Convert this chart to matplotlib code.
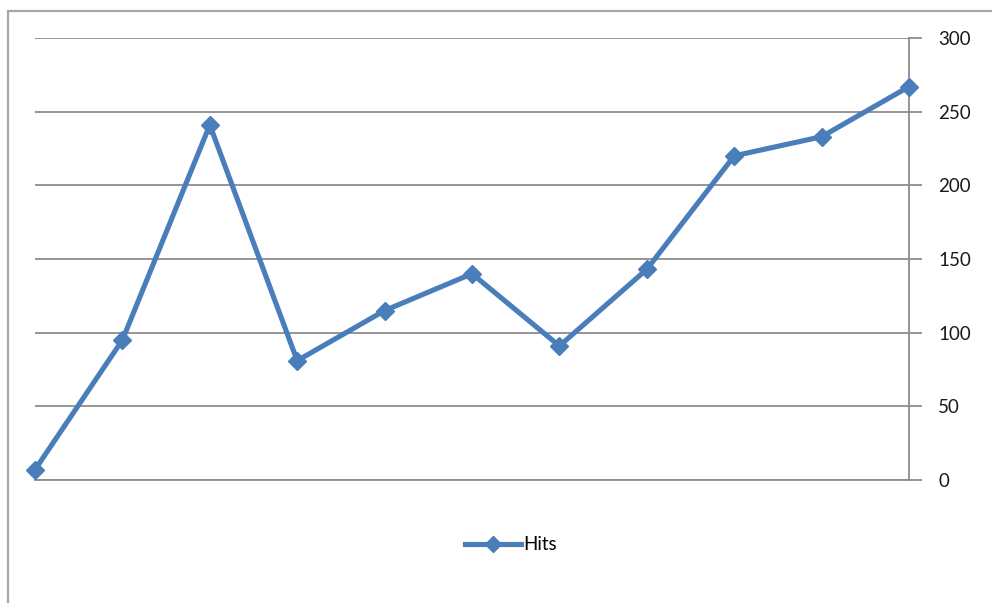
import matplotlib.pyplot as plt
from matplotlib.patches import Rectangle
from matplotlib.lines import Line2D

plt.rcParams['font.family'] = ['Lato', 'DejaVu Sans']

# data
points = list(range(11))
hits = [7, 95, 241, 81, 115, 140, 91, 143, 220, 233, 267]
y_ticks = [0, 50, 100, 150, 200, 250, 300]

line_color = '#4a7ebb'
grid_color = '#8c8c8c'

fig = plt.figure(figsize=(9.92, 6.03), dpi=100, facecolor='white')

# outer chart frame (clipped on the right and bottom like the screenshot)
frame = Rectangle((8 / 992, -0.1), 1.2, 1.1 - 11 / 603,
                  transform=fig.transFigure, fill=False,
                  edgecolor='#a6a6a6', linewidth=1.6)
fig.patches.append(frame)

ax = fig.add_axes([35 / 992, 1 - 480 / 603, (909 - 35) / 992, (480 - 38) / 603])
ax.plot(points, hits, color=line_color, linewidth=3.7, marker='D',
        markersize=9, markeredgecolor=line_color, markerfacecolor=line_color,
        clip_on=False, zorder=3, label='Hits')

ax.set_xlim(0, 10)
ax.set_ylim(0, 300)
ax.set_yticks(y_ticks)
ax.yaxis.tick_right()
ax.tick_params(axis='y', direction='out', length=9, width=1.3, color=grid_color,
               labelsize=13.5, pad=12, labelcolor='#1a1a1a')
ax.set_xticks([])
ax.grid(axis='y', color=grid_color, linewidth=1.3)
ax.set_axisbelow(True)

for side in ['top', 'left']:
    ax.spines[side].set_visible(False)
ax.spines['right'].set_color(grid_color)
ax.spines['right'].set_linewidth(1.3)
ax.spines['bottom'].set_color(grid_color)
ax.spines['bottom'].set_linewidth(1.3)

handle = Line2D([], [], color=line_color, linewidth=3.7, marker='D', markersize=8)
fig.legend([handle], ['Hits'], loc='center', bbox_to_anchor=(511 / 992, 1 - 545 / 603),
           frameon=False, fontsize=13.5, handlelength=3.0, handletextpad=0.1)

fig.savefig('out.png', dpi=100, facecolor='white')
